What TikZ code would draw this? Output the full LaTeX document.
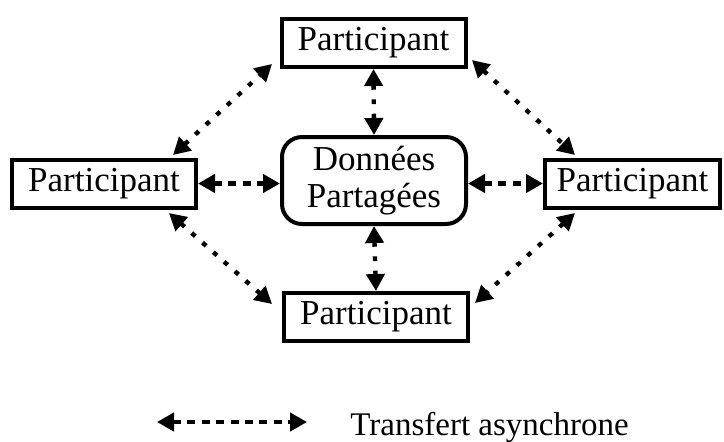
\documentclass[tikz,border=0pt]{standalone}
\usepackage{fontspec}
\setmainfont{Liberation Serif}
\usetikzlibrary{arrows.meta,positioning}
\tikzset{
  participant/.style={rectangle, draw=black, line width=2pt, minimum width=92pt,
                      minimum height=24pt, inner sep=2pt, font=\fontsize{17.5}{17}\selectfont},
  shared/.style={participant, rounded corners=10pt, minimum height=43.5pt, align=center,
                 font=\fontsize{17.5}{18.5}\selectfont},
  link/.style={{Triangle[length=8.5pt,width=9pt]}-{Triangle[length=8.5pt,width=9pt]},
               line width=2.2pt, dash pattern=on 2.4pt off 4.8pt},
  hlink/.style={link, dash pattern=on 4pt off 3.2pt},
  legend/.style={font=\fontsize{16.5}{16}\selectfont, inner sep=0pt},
}
\begin{document}
\begin{tikzpicture}[x=0.5pt,y=-0.5pt]
\useasboundingbox (0,0) rectangle (724,441);
% participants round the shared data
\node[shared] (data) at (374,180.5) {Données\\Partagées};
\node[participant] (ptop) at (373.5,43) {Participant};
\node[participant] (pleft) at (104,183.5) {Participant};
\node[participant, minimum width=87.5pt] (pright) at (632.5,183.5) {Participant};
\node[participant] (pbottom) at (376,317) {Participant};
% links to the shared data
\draw[link] (ptop.south) -- (data.north);
\draw[link] (data.south) -- (pbottom.north);
\draw[hlink] (pleft.east) -- (pleft.east -| data.west);
\draw[hlink] (pright.west -| data.east) -- (pright.west);
% links between participants
\draw[link] ([xshift=-12.5pt,yshift=1.25pt]pleft.north east) -- ([xshift=-3.75pt,yshift=2.5pt]ptop.south west);
\draw[link] ([xshift=2.25pt,yshift=4.5pt]ptop.south east) -- ([xshift=16pt,yshift=1.25pt]pright.north west);
\draw[link] ([xshift=-14.5pt,yshift=-1.75pt]pleft.south east) -- ([xshift=-5pt,yshift=-6.5pt]pbottom.north west);
\draw[link] ([xshift=16pt,yshift=-1.75pt]pright.south west) -- ([xshift=2.5pt,yshift=-6pt]pbottom.north east);
% legend
\coordinate (lstart) at (157,422);
\coordinate (lend) at (307,422);
\draw[hlink] (lstart) -- (lend);
\node[legend, anchor=base west] (legtext) at (350,435) {Transfert asynchrone};
\end{tikzpicture}
\end{document}
